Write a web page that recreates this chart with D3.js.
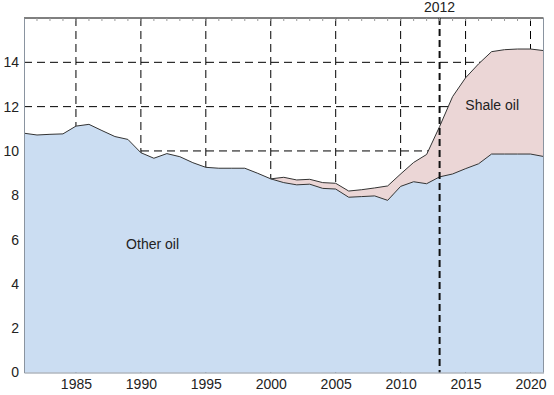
<!DOCTYPE html>
<meta charset="utf-8">
<script src="https://cdn.jsdelivr.net/npm/d3@7"></script>
<style type="text/css">
body { margin: 0; background: #fff; }
text { font-family: "Liberation Sans", Arial, sans-serif; fill: #222; }
.grid line { stroke: #000; stroke-width: 1; stroke-dasharray: 8,5; }
.axis path, .axis line { stroke: #8a94a0; }
</style>
<body>
</body>
<script>
// years 1981..2021
var years = d3.range(1981, 2022);
var otherOil = [10.8, 10.72, 10.75, 10.77, 11.12, 11.2, 10.92, 10.65, 10.52, 9.92,
  9.67, 9.88, 9.74, 9.47, 9.26, 9.22, 9.22, 9.22, 8.99, 8.74,
  8.57, 8.47, 8.5, 8.31, 8.28, 7.91, 7.94, 7.97, 7.77, 8.4,
  8.61, 8.52, 8.83, 8.96, 9.2, 9.42, 9.86, 9.86, 9.86, 9.86, 9.75];
var shaleOil = [0, 0, 0, 0, 0, 0, 0, 0, 0, 0,
  0, 0, 0, 0, 0, 0, 0, 0, 0, 0,
  0.24, 0.22, 0.22, 0.26, 0.26, 0.28, 0.31, 0.36, 0.65, 0.56,
  0.87, 1.32, 2.27, 3.49, 4.1, 4.51, 4.62, 4.71, 4.74, 4.74, 4.78];
var xTicks = [1985, 1990, 1995, 2000, 2005, 2010, 2015, 2020];
var yTicks = [0, 2, 4, 6, 8, 10, 12, 14];
var markerPos = 2013;
var markerLabel = "2012";

var margin = {top: 18, right: 10.5, bottom: 22.5, left: 24},
    width = 554 - margin.left - margin.right,
    height = 395 - margin.top - margin.bottom;

var data = years.map(function(y, i) {
  return {year: y, other: otherOil[i], shale: shaleOil[i]};
});

var x = d3.scaleLinear().domain([1981, 2021]).range([0, width]);
var y = d3.scaleLinear().domain([0, 16]).range([height, 0]);

var svg = d3.select("body").append("svg")
    .attr("width", 554)
    .attr("height", 395)
  .append("g")
    .attr("transform", "translate(" + margin.left + "," + margin.top + ")");

// grid under the areas
var grid = svg.append("g").attr("class", "grid");
grid.selectAll(".v").data(xTicks).enter().append("line")
    .attr("x1", function(d) { return x(d); }).attr("x2", function(d) { return x(d); })
    .attr("y1", 0).attr("y2", height);
grid.selectAll(".h").data(yTicks.filter(function(d) { return d > 0; })).enter().append("line")
    .attr("x1", 0).attr("x2", width)
    .attr("y1", function(d) { return y(d); }).attr("y2", function(d) { return y(d); });

var stack = d3.stack().keys(["other", "shale"]);
var series = stack(data);

var area = d3.area()
    .x(function(d) { return x(d.data.year); })
    .y0(function(d) { return y(d[0]); })
    .y1(function(d) { return y(d[1]); });

var line = d3.line()
    .x(function(d) { return x(d.data.year); })
    .y(function(d) { return y(d[1]); });

svg.append("path").datum(series[1]).attr("d", area)
    .attr("fill", "#ebd6d6");
svg.append("path").datum(series[0]).attr("d", area)
    .attr("fill", "#cbddf2");
svg.append("path").datum(series[1].filter(function(d) { return d.data.year >= 2000; }))
    .attr("d", line).attr("fill", "none").attr("stroke", "#333").attr("stroke-width", 1);
svg.append("path").datum(series[0]).attr("d", line)
    .attr("fill", "none").attr("stroke", "#333").attr("stroke-width", 1);

// 2012 marker
svg.append("line")
    .attr("x1", x(markerPos)).attr("x2", x(markerPos))
    .attr("y1", 0).attr("y2", height)
    .attr("stroke", "#111").attr("stroke-width", 2)
    .attr("stroke-dasharray", "7,4");
svg.append("text")
    .attr("x", x(markerPos)).attr("y", -6)
    .attr("text-anchor", "middle")
    .attr("font-size", "14px")
    .text(markerLabel);

// frame: top black, minor ticks along top
svg.append("line").attr("x1", 0).attr("x2", width).attr("y1", 0).attr("y2", 0)
    .attr("stroke", "#000");
svg.selectAll(".topTick").data(years.slice(1, -1)).enter().append("line")
    .attr("x1", function(d) { return x(d); }).attr("x2", function(d) { return x(d); })
    .attr("y1", 0).attr("y2", 3)
    .attr("stroke", "#999");
svg.append("line").attr("x1", width).attr("x2", width).attr("y1", 0).attr("y2", height)
    .attr("stroke", "#8a94a0");

svg.append("g")
    .attr("class", "axis")
    .attr("transform", "translate(0," + height + ")")
    .call(d3.axisBottom(x).tickValues(xTicks).tickFormat(d3.format("d")).tickSize(0).tickPadding(7))
    .call(function(g) { g.selectAll("text").attr("font-size", "14px").attr("fill", "#222"); });

svg.append("g")
    .attr("class", "axis")
    .call(d3.axisLeft(y).tickValues(yTicks).tickSize(0).tickPadding(5))
    .call(function(g) { g.selectAll("text").attr("font-size", "14px").attr("fill", "#222"); });

svg.append("text")
    .attr("x", x(1990.9)).attr("y", y(5.8)).attr("dy", "0.35em")
    .attr("text-anchor", "middle").attr("font-size", "14px")
    .text("Other oil");
svg.append("text")
    .attr("x", x(2017.05)).attr("y", y(12.08)).attr("dy", "0.35em")
    .attr("text-anchor", "middle").attr("font-size", "14px")
    .text("Shale oil");
</script>
